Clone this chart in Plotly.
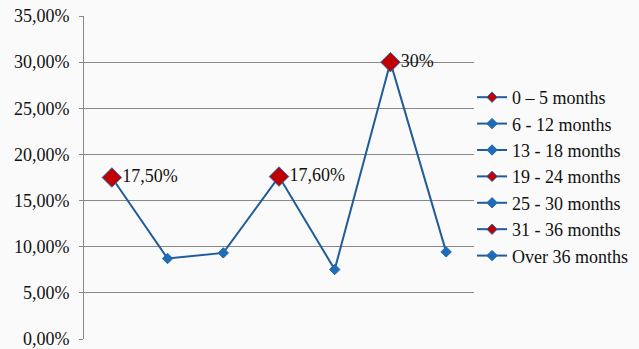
import plotly.graph_objects as go

# Share of cases by age band
categories = ["0 – 5 months", "6 - 12 months", "13 - 18 months", "19 - 24 months",
              "25 - 30 months", "31 - 36 months", "Over 36 months"]
values = [0.175, 0.0872, 0.0933, 0.176, 0.0753, 0.30, 0.0944]
highlighted = [True, False, False, True, False, True, False]
point_labels = ["17,50%", "", "", "17,60%", "", "30%", ""]

LINE_BLUE = "#1F5C99"
MARK_BLUE = "#1F6BB5"
RED = "#C00000"
FONT = "'Liberation Serif', 'DejaVu Serif', serif"

fig = go.Figure()

# connecting line
fig.add_trace(go.Scatter(
    x=categories, y=values, mode="lines",
    line=dict(color=LINE_BLUE, width=2),
    showlegend=False, hoverinfo="skip",
))

# one small marker per category so each band gets its own legend entry
for cat, val, hi in zip(categories, values, highlighted):
    fig.add_trace(go.Scatter(
        x=[cat], y=[val], name=cat, mode="lines+markers",
        line=dict(color=LINE_BLUE, width=2),
        marker=dict(symbol="diamond", size=8,
                    color=RED if hi else MARK_BLUE,
                    line=dict(color=MARK_BLUE, width=1)),
    ))

# enlarged, labelled markers on the highlighted bands
hx = [c for c, h in zip(categories, highlighted) if h]
hy = [v for v, h in zip(values, highlighted) if h]
ht = [t for t, h in zip(point_labels, highlighted) if h]
fig.add_trace(go.Scatter(
    x=hx, y=hy, text=ht, mode="markers+text",
    textposition="middle right",
    textfont=dict(family=FONT, size=18, color="#111111"),
    marker=dict(symbol="diamond", size=15, color=RED,
                line=dict(color=MARK_BLUE, width=1)),
    showlegend=False, hoverinfo="skip",
))

fig.update_layout(
    width=639, height=349,
    margin=dict(l=84, r=165, t=16, b=10, autoexpand=False),
    paper_bgcolor="#FAFAFA",
    plot_bgcolor="#FAFAFA",
    separators=",.",
    font=dict(family=FONT, size=18, color="#111111"),
    legend=dict(
        x=0.995, y=0.805, xanchor="left", yanchor="top",
        bgcolor="rgba(0,0,0,0)",
        font=dict(family=FONT, size=18),
        itemwidth=30,
        tracegroupgap=0,
    ),
)

fig.update_xaxes(
    type="category", showticklabels=False, showgrid=False,
    zeroline=False, showline=False, ticks="", automargin=False,
    range=[-0.5, len(categories) - 0.5],
)
fig.update_yaxes(
    range=[0, 0.35], dtick=0.05, tickformat=".2%",
    showgrid=True, gridcolor="#888888", gridwidth=1,
    zeroline=False, showline=True, linecolor="#888888", linewidth=1,
    ticks="outside", ticklen=4, tickcolor="#888888",
    ticklabelstandoff=6, automargin=False, ticklabeloverflow="allow",
)

fig.write_html("out.html")
